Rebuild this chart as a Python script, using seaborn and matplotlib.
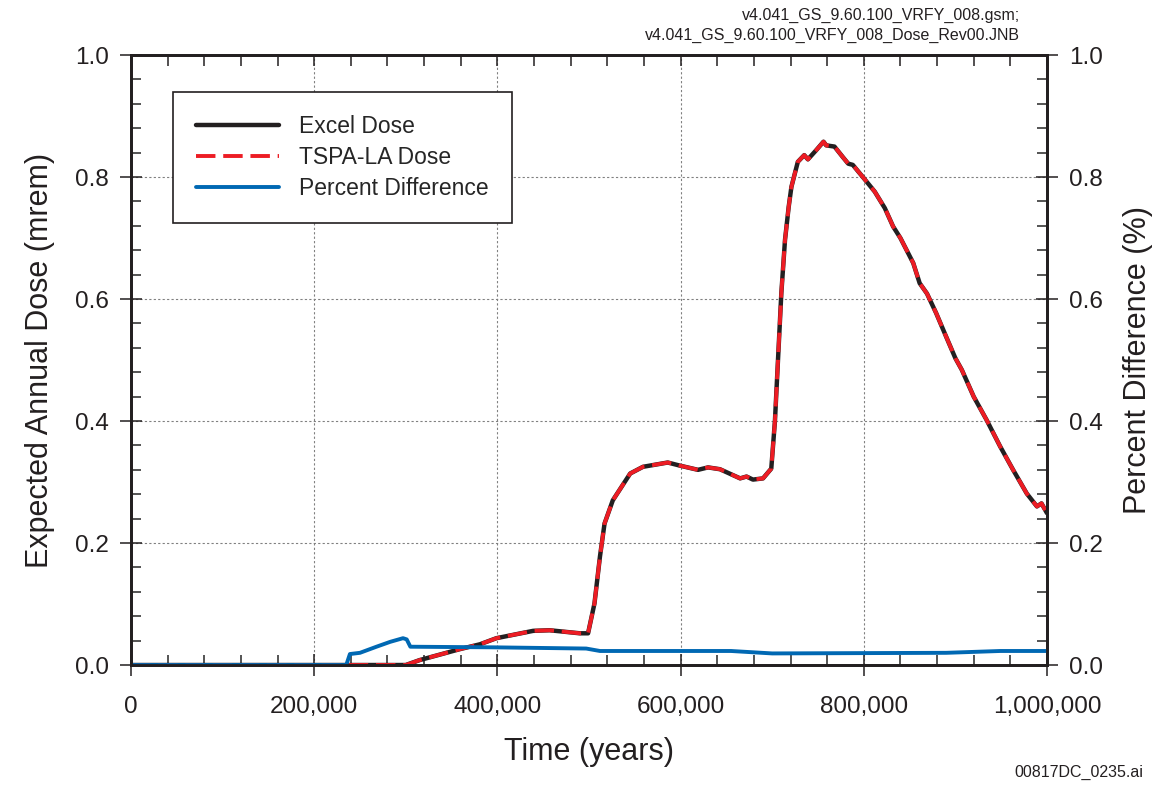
import matplotlib
matplotlib.use("Agg")
import matplotlib.pyplot as plt
import pandas as pd
import seaborn as sns
from matplotlib.ticker import MultipleLocator, FuncFormatter

# Dose curves (Excel and TSPA-LA overlap)
dose_time = [0, 300000, 315000, 359000, 381000, 399000, 439000, 457000, 490000, 499000,
             506000, 512000, 517000, 526000, 545000, 559000, 586000, 599000, 619000, 630000,
             643000, 665000, 672000, 679000, 690000, 699000, 703000, 707000, 710000, 714000,
             718000, 721000, 728000, 735000, 739000, 748000, 756000, 759000, 768000, 777000,
             783000, 788000, 799000, 812000, 823000, 832000, 840000, 854000, 861000, 869000,
             879000, 890000, 900000, 907000, 920000, 934000, 949000, 963000, 978000, 989000,
             994000, 1000000]
dose_vals = [0.0, 0.0, 0.008, 0.026, 0.034, 0.044, 0.056, 0.057, 0.052, 0.052,
             0.101, 0.178, 0.232, 0.270, 0.314, 0.325, 0.332, 0.327, 0.320, 0.324,
             0.321, 0.306, 0.309, 0.304, 0.306, 0.322, 0.400, 0.520, 0.610, 0.697,
             0.751, 0.784, 0.825, 0.836, 0.829, 0.844, 0.858, 0.852, 0.850, 0.833,
             0.822, 0.820, 0.800, 0.776, 0.749, 0.719, 0.700, 0.659, 0.626, 0.609,
             0.577, 0.538, 0.503, 0.484, 0.440, 0.402, 0.358, 0.320, 0.281, 0.260,
             0.265, 0.249]

# Percent difference
pct_time = [0, 235000, 239000, 250000, 268000, 283000, 297000, 301000, 305000, 395000,
            497000, 512000, 655000, 700000, 890000, 949000, 1000000]
pct_vals = [0.0, 0.0, 0.018, 0.020, 0.030, 0.038, 0.044, 0.042, 0.030, 0.029,
            0.027, 0.023, 0.023, 0.019, 0.020, 0.023, 0.023]

dose = pd.DataFrame({"time": dose_time, "dose": dose_vals})
pct = pd.DataFrame({"time": pct_time, "pct": pct_vals})

sns.set_theme(style="ticks")
plt.rcParams["font.family"] = ["Liberation Sans", "DejaVu Sans"]

fig = plt.figure(figsize=(11.56, 7.87), dpi=100)
ax = fig.add_axes([0.1133, 0.155, 0.7924, 0.775])

sns.lineplot(data=dose, x="time", y="dose", ax=ax, color="#231f20", lw=3.2,
             estimator=None, sort=False, label="Excel Dose")
sns.lineplot(data=dose, x="time", y="dose", ax=ax, color="#ed1c24", lw=2.8,
             estimator=None, sort=False, label="TSPA-LA Dose")
ax.lines[1].set_linestyle((0, (5, 2)))

ax2 = ax.twinx()
sns.lineplot(data=pct, x="time", y="pct", ax=ax2, color="#0068b3", lw=2.8,
             estimator=None, sort=False, label="Percent Difference")

for a in (ax, ax2):
    a.set_xlim(0, 1000000)
    a.set_ylim(0, 1.0)
    a.yaxis.set_major_locator(MultipleLocator(0.2))
    a.yaxis.set_minor_locator(MultipleLocator(0.04))
    a.yaxis.set_major_formatter(FuncFormatter(lambda v, p: f"{v:.1f}"))
    for s in a.spines.values():
        s.set_linewidth(2.0)
        s.set_color("#231f20")

ax.xaxis.set_major_locator(MultipleLocator(200000))
ax.xaxis.set_minor_locator(MultipleLocator(40000))
ax.xaxis.set_major_formatter(FuncFormatter(lambda v, p: f"{int(v):,}"))

ax.tick_params(axis="both", which="major", direction="inout", length=16, width=1.1,
               labelsize=17.5, colors="#231f20", pad=8)
ax.tick_params(axis="both", which="minor", direction="in", length=7, width=1.1)
ax.tick_params(axis="x", which="both", top=False)
ax.tick_params(axis="x", which="major", pad=14)
ax2.tick_params(axis="y", which="major", direction="inout", length=16, width=1.1,
                labelsize=17.5, colors="#231f20", pad=8)
ax2.tick_params(axis="y", which="minor", direction="in", length=7, width=1.1)

# top edge: short inward ticks only
ax2.xaxis.set_visible(True)
ax2.tick_params(axis="x", which="both", bottom=False, top=True, labelbottom=False,
                labeltop=False, direction="in", length=8, width=1.1, colors="#231f20")
ax2.set_xlabel("")

ax.grid(True, which="major", color="#808080", linestyle=(0, (2, 2)), linewidth=0.8)

ax.set_xlabel("Time (years)", fontsize=22, color="#231f20", labelpad=14)
ax.set_ylabel("Expected Annual Dose (mrem)", fontsize=22, color="#231f20", labelpad=14)
ax2.set_ylabel("Percent Difference (%)", fontsize=22, color="#231f20", labelpad=14)

h1, l1 = ax.get_legend_handles_labels()
h2, l2 = ax2.get_legend_handles_labels()
ax2.get_legend().remove()
ax.get_legend().remove()
leg = ax2.legend(h1 + h2, l1 + l2, loc="upper left", bbox_to_anchor=(0.046, 0.939),
                 borderaxespad=0, fontsize=16.5, fancybox=False, framealpha=1,
                 edgecolor="#231f20", handlelength=3.6, borderpad=1.0,
                 labelspacing=0.35, handletextpad=0.9)
leg.get_frame().set_linewidth(1.2)

fig.text(0.882, 0.981, "v4.041_GS_9.60.100_VRFY_008.gsm;", ha="right", va="center",
         fontsize=11.5, color="#231f20")
fig.text(0.882, 0.955, "v4.041_GS_9.60.100_VRFY_008_Dose_Rev00.JNB", ha="right",
         va="center", fontsize=11.5, color="#231f20")
fig.text(0.989, 0.018, "00817DC_0235.ai", ha="right", va="center", fontsize=11.5,
         color="#231f20")

fig.savefig("out.png", dpi=100, facecolor="white")
